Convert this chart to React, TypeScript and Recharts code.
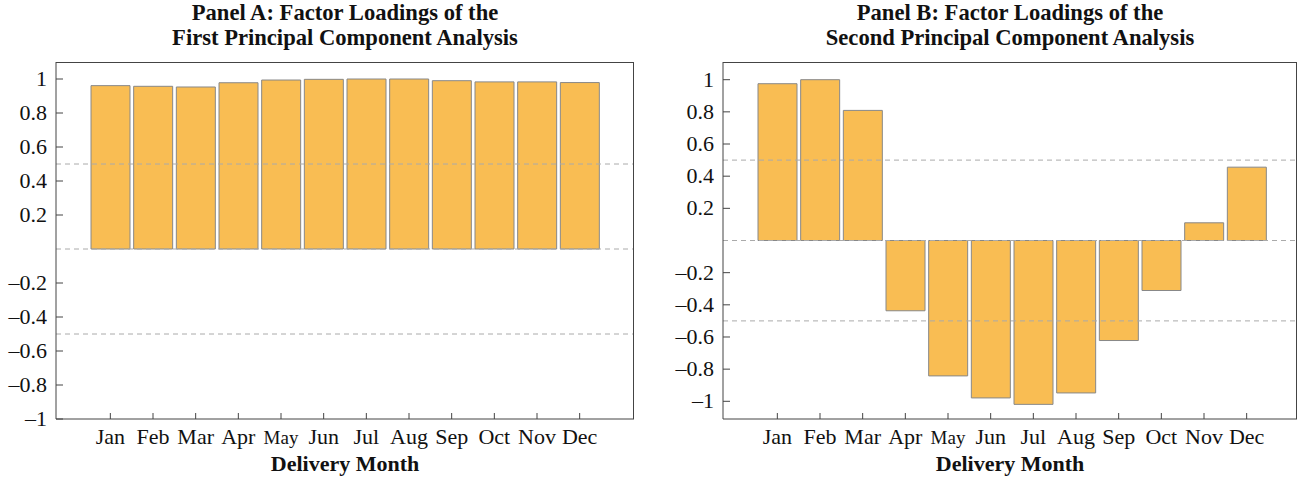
import React from 'react';
import { BarChart, Bar, XAxis, YAxis, ReferenceLine } from 'recharts';

const months = ['Jan', 'Feb', 'Mar', 'Apr', 'May', 'Jun', 'Jul', 'Aug', 'Sep', 'Oct', 'Nov', 'Dec'];
const firstPC = [0.961, 0.957, 0.953, 0.978, 0.994, 0.998, 1.0, 1.0, 0.99, 0.983, 0.983, 0.979];
const secondPC = [0.975, 1.0, 0.809, -0.437, -0.842, -0.979, -1.019, -0.948, -0.622, -0.311, 0.11, 0.456];
const yTicks = [1, 0.8, 0.6, 0.4, 0.2, -0.2, -0.4, -0.6, -0.8, -1];
const guideLines = [0.5, 0, -0.5];

const FONT = '"Liberation Serif", "DejaVu Serif", serif';
const BAR_FILL = '#F9BD53';
const BAR_STROKE = '#888888';
const AXIS = '#444444';

const fmt = (v: number) => String(v).replace('-', '\u2013');

const YTick = ({ x, y, payload }: any) => (
  <g>
    <line x1={x + 9} x2={x + 16} y1={y} y2={y} stroke={AXIS} strokeWidth={1} />
    <text x={x} y={y} dy={7} textAnchor="end" fontFamily={FONT} fontSize={22} fill="#111">
      {fmt(payload.value)}
    </text>
  </g>
);

const XTick = ({ x, y, payload }: any) => (
  <g>
    <line x1={x} x2={x} y1={y} y2={y - 6} stroke={AXIS} strokeWidth={1} />
    <text
      x={x}
      y={y + 25}
      textAnchor="middle"
      fontFamily={FONT}
      fontSize={payload.value === 'May' ? 19 : 22}
      fill="#111"
    >
      {payload.value}
    </text>
  </g>
);

interface PanelProps {
  left: number;
  width: number;
  yWidth: number;
  marginRight: number;
  padLeft: number;
  padRight: number;
  domain: [number, number];
  values: number[];
  title: string[];
}

function Panel({ left, width, yWidth, marginRight, padLeft, padRight, domain, values, title }: PanelProps) {
  const data = months.map((m, i) => ({ month: m, value: values[i] }));
  const plotLeft = yWidth;
  const plotRight = width - marginRight;
  const plotTop = 62;
  const plotBottom = 419;
  return (
    <div style={{ position: 'absolute', left, top: 0, width, height: 483 }}>
      <div
        style={{
          position: 'absolute',
          left: plotLeft,
          width: plotRight - plotLeft,
          top: 0,
          textAlign: 'center',
          fontFamily: FONT,
          fontWeight: 'bold',
          fontSize: 22.6,
          lineHeight: '25px',
          color: '#111',
        }}
      >
        {title[0]}
        <br />
        {title[1]}
      </div>
      <BarChart
        width={width}
        height={483}
        data={data}
        margin={{ top: plotTop, right: marginRight, bottom: 0, left: 0 }}
        barCategoryGap={2}
      >
        <XAxis
          dataKey="month"
          type="category"
          height={483 - plotBottom}
          padding={{ left: padLeft, right: padRight }}
          tickSize={0}
          tickMargin={0}
          tickLine={false}
          axisLine={{ stroke: AXIS }}
          tick={<XTick />}
          interval={0}
        />
        <YAxis
          type="number"
          width={yWidth}
          domain={domain}
          ticks={yTicks}
          allowDataOverflow
          tickSize={0}
          tickMargin={9}
          tickLine={false}
          axisLine={{ stroke: AXIS }}
          tick={<YTick />}
          interval={0}
        />
        {guideLines.map((g) => (
          <ReferenceLine key={g} y={g} stroke="#AAAAAA" strokeDasharray="5 4" strokeWidth={1} />
        ))}
        <Bar dataKey="value" fill={BAR_FILL} stroke={BAR_STROKE} strokeWidth={1} isAnimationActive={false} />
      </BarChart>
      <div
        style={{
          position: 'absolute',
          left: plotLeft,
          top: plotTop,
          width: plotRight - plotLeft,
          height: plotBottom - plotTop,
          borderTop: `1px solid ${AXIS}`,
          borderRight: `1px solid ${AXIS}`,
          boxSizing: 'border-box',
          pointerEvents: 'none',
        }}
      />
      <div
        style={{
          position: 'absolute',
          left: plotLeft,
          width: plotRight - plotLeft,
          top: 452,
          textAlign: 'center',
          fontFamily: FONT,
          fontWeight: 'bold',
          fontSize: 22,
          lineHeight: '23px',
          color: '#111',
        }}
      >
        Delivery Month
      </div>
    </div>
  );
}

export default function App() {
  return (
    <div style={{ position: 'absolute', left: 0, top: 0, width: 1301, height: 483, background: '#fff' }}>
      <Panel
        left={0}
        width={650}
        yWidth={56}
        marginRight={16}
        padLeft={33}
        padRight={33}
        domain={[-1, 1.1]}
        values={firstPC}
        title={['Panel A: Factor Loadings of the', 'First Principal Component Analysis']}
      />
      <Panel
        left={650}
        width={651}
        yWidth={73}
        marginRight={4}
        padLeft={33}
        padRight={29}
        domain={[-1.11, 1.11]}
        values={secondPC}
        title={['Panel B: Factor Loadings of the', 'Second Principal Component Analysis']}
      />
    </div>
  );
}
